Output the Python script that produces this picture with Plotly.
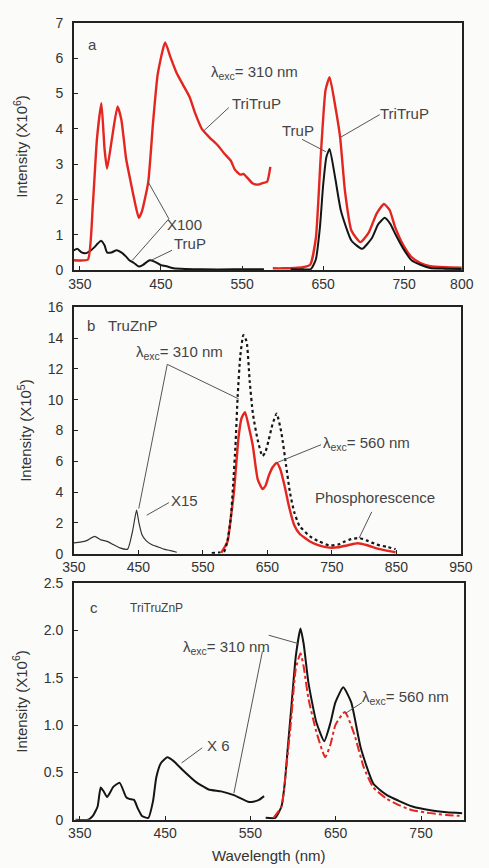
import plotly.graph_objects as go

# ---------------- data ----------------
# Panel a: TriTruP / TruP, excitation 310 nm
a_red_uv_wl = [342.5, 350, 360, 366, 371, 376.5, 380.4, 383.5, 389.4, 396.4, 401.1, 407, 410.9, 416.7,
               422.6, 426.6, 434.3, 440.2, 446.1, 455.1, 461.8, 469.6, 477, 485.3, 492, 500.8, 510,
               520.4, 528, 536, 541, 547.7, 551.6, 557, 563.3, 570, 575, 580.9, 584.9]
a_red_uv = [0.28, 0.27, 0.3, 1.85, 3.7, 4.72, 3.43, 2.87, 3.7, 4.63, 4.26, 3.15, 2.69, 2.04,
            1.48, 1.67, 2.49, 4.17, 5.56, 6.44, 6.02, 5.56, 5.25, 4.9, 4.45, 3.98, 3.75,
            3.52, 3.3, 3.1, 2.85, 2.7, 2.72, 2.6, 2.45, 2.42, 2.46, 2.5, 2.92]
a_blk_uv_wl = [342.5, 347, 352, 358, 363, 368, 372, 376, 380.4, 383.5, 389, 395.2, 401, 407, 411,
               416.7, 422.6, 428, 436, 442, 450, 458, 465.6, 480, 500, 540, 577]
a_blk_uv = [0.56, 0.6, 0.5, 0.48, 0.55, 0.65, 0.75, 0.83, 0.7, 0.5, 0.5, 0.56, 0.5, 0.38, 0.28,
            0.2, 0.1, 0.15, 0.28, 0.24, 0.14, 0.1, 0.05, 0.03, 0.02, 0.02, 0.02]
a_red_q_wl = [588, 600, 615, 625, 634, 641, 647, 653, 658, 665, 671, 677, 685, 696, 706, 716, 725,
              732, 739, 749, 759, 770, 782, 800, 821]
a_red_q = [0.05, 0.05, 0.06, 0.08, 0.15, 0.9, 3.2, 5.1, 5.46, 4.63, 3.75, 2.22, 1.11, 0.79, 1.05,
           1.6, 1.87, 1.7, 1.2, 0.7, 0.37, 0.2, 0.11, 0.08, 0.07]
a_blk_q_wl = [610, 625, 635, 641, 646, 650, 654, 658, 665, 672, 685, 698, 710, 718, 726, 733, 739,
              749, 759, 770, 782, 800, 821]
a_blk_q = [0.02, 0.02, 0.03, 0.3, 1.2, 2.4, 3.2, 3.43, 2.59, 1.67, 0.83, 0.6, 0.9, 1.3, 1.48, 1.3,
           1.02, 0.6, 0.28, 0.15, 0.06, 0.04, 0.03]

# Panel b: TruZnP
b_x15_wl = [350, 360, 370, 382, 392, 401.6, 411, 421.2, 433.5, 441, 447.3, 451, 455.7, 462, 470.4,
            480, 490, 500, 509.7]
b_x15 = [0.7, 0.75, 0.85, 1.13, 0.9, 0.8, 0.6, 0.38, 0.3, 1.45, 2.83, 2.0, 1.23, 0.85, 0.6, 0.45,
         0.3, 0.2, 0.1]
b_310_wl = [563.8, 575, 583.4, 588, 593.3, 597, 600.6, 604, 608, 612.9, 617.8, 622.7, 627.6, 635,
            642.4, 647, 652.2, 658, 664.5, 671.9, 679.2, 685, 691.6, 700, 716.1, 730, 745.6, 760,
            770.2, 780, 792.3, 805, 819.3, 835, 848.8]
b_310 = [0.05, 0.08, 0.17, 0.8, 2.3, 4.5, 7.0, 10.2, 12.8, 14.2, 13.8, 11.2, 9.1, 7.4, 6.34, 6.6,
         7.4, 8.4, 9.1, 7.83, 5.7, 4.0, 2.72, 1.8, 1.13, 0.8, 0.55, 0.6, 0.8, 0.95, 1.02, 0.85,
         0.6, 0.45, 0.3]
b_560_wl = [578.5, 588.4, 593, 598.2, 605.5, 610, 615.4, 621, 627.6, 635, 642.4, 647, 652.2, 658,
            664.5, 670, 676.8, 684, 691.6, 700, 716.1, 730, 745.6, 760, 775, 790, 805, 819.3, 835,
            848.8]
b_560 = [0.05, 0.8, 2.2, 4.0, 7.6, 8.8, 9.2, 8.3, 7.0, 4.85, 4.2, 4.4, 5.06, 5.6, 5.9, 5.5, 4.4,
         3.0, 1.87, 1.3, 0.8, 0.55, 0.4, 0.42, 0.55, 0.68, 0.55, 0.35, 0.2, 0.1]

# Panel c: TriTruZnP
c_x6_wl = [345, 359.7, 365.3, 370.9, 374.5, 378, 382, 389.5, 396.8, 404.3, 408, 413.6, 418, 422.9,
           430.3, 435.9, 439.7, 445.2, 452.6, 460, 471.2, 486, 501, 515.8, 530.6, 547.3, 553, 560,
           566]
c_x6 = [0.0, 0.0, 0.04, 0.14, 0.34, 0.3, 0.24, 0.35, 0.39, 0.24, 0.22, 0.21, 0.12, 0.04, 0.02, 0.2,
        0.45, 0.6, 0.66, 0.62, 0.52, 0.4, 0.32, 0.3, 0.26, 0.19, 0.19, 0.21, 0.25]
c_310_wl = [567.9, 579, 586.4, 590.2, 593.8, 597.5, 603.1, 608.7, 612.4, 618, 627.3, 636.5, 644,
            649.6, 658.8, 668.2, 679.3, 694.2, 710, 723.9, 740, 761, 780, 798.2]
c_310 = [0.02, 0.02, 0.14, 0.38, 0.76, 1.14, 1.72, 2.02, 1.86, 1.45, 1.03, 0.83, 1.03, 1.24, 1.4,
         1.24, 0.76, 0.38, 0.26, 0.2, 0.14, 0.1, 0.08, 0.07]
c_560_wl = [577.1, 586.4, 592, 597.5, 603.1, 608.7, 612.4, 618, 627.3, 637.7, 644, 649.6, 660.7,
            671.9, 683, 694.2, 710, 723.9, 740, 761, 780, 798.2]
c_560 = [0.02, 0.14, 0.55, 1.03, 1.59, 1.76, 1.62, 1.28, 0.93, 0.66, 0.8, 1.0, 1.14, 0.9, 0.55,
         0.34, 0.22, 0.155, 0.1, 0.07, 0.05, 0.04]

a_ticks = [350, 450, 550, 650, 750, 821]
a_ticktext = ["350", "450", "550", "650", "750", "800"]
b_ticks = [350, 450, 550, 650, 750, 850, 950]
c_ticks = [350, 450, 550, 650, 750]
a_yticks = [0, 1, 2, 3, 4, 5, 6, 7]
b_yticks = [0, 2, 4, 6, 8, 10, 12, 14, 16]
c_yticks = [0, 0.5, 1.0, 1.5, 2.0, 2.5]
c_yticktext = ["0", "0.5", "1.0", "1.5", "2.0", "2.5"]

# ---------------- figure ----------------
W, H = 489, 868
RED = "#e3261f"
BLK = "#151515"
TXT = "#444444"
FONT = "Liberation Sans, Arial, sans-serif"


def xd(l, r):
    return [l / W, r / W]


def yd(t, b):
    return [1 - b / H, 1 - t / H]


fig = go.Figure()


def line(x, y, ax, color, width, dash="solid"):
    fig.add_trace(go.Scatter(x=x, y=y, mode="lines", xaxis=ax[0], yaxis=ax[1],
                             line=dict(color=color, width=width, dash=dash, shape="spline",
                                       smoothing=0.5),
                             showlegend=False, hoverinfo="skip"))


line(a_blk_uv_wl, a_blk_uv, ("x", "y"), BLK, 2)
line(a_red_uv_wl, a_red_uv, ("x", "y"), RED, 2.4)
line(a_red_q_wl, a_red_q, ("x", "y"), RED, 2.4)
line(a_blk_q_wl, a_blk_q, ("x", "y"), BLK, 2)

line(b_x15_wl, b_x15, ("x2", "y2"), "#333333", 1.2)
line(b_560_wl, b_560, ("x2", "y2"), RED, 2.4)
line(b_310_wl, b_310, ("x2", "y2"), BLK, 2.2, "dot")

line(c_x6_wl, c_x6, ("x3", "y3"), BLK, 2)
line(c_310_wl, c_310, ("x3", "y3"), BLK, 2)
line(c_560_wl, c_560, ("x3", "y3"), RED, 2, "dashdot")

tickfont = dict(family=FONT, size=14, color="#333333")
titlefont = dict(family=FONT, size=15, color="#333333")


def xaxis(dom, rng, tv, tt, anchor, title=None):
    d = dict(domain=dom, range=rng, tickvals=tv, ticktext=tt, anchor=anchor,
             showline=True, mirror=True, linecolor="#222222", linewidth=1.5,
             ticks="inside", ticklen=4, tickcolor="#222222", tickfont=tickfont,
             showgrid=False, zeroline=False)
    if title:
        d["title"] = dict(text=title, font=titlefont, standoff=10)
    return d


def yaxis(dom, rng, tv, tt, anchor, title, standoff):
    return dict(domain=dom, range=rng, tickvals=tv, ticktext=tt, anchor=anchor,
                showline=True, mirror=True, linecolor="#222222", linewidth=1.5,
                ticks="inside", ticklen=4, tickcolor="#222222", tickfont=tickfont,
                ticklabelstandoff=6,
                showgrid=False, zeroline=False,
                title=dict(text=title, font=titlefont, standoff=standoff))


fig.update_layout(
    width=W, height=H, autosize=False,
    margin=dict(l=0, r=0, t=0, b=0),
    paper_bgcolor="#fbfbfa", plot_bgcolor="#fbfbfa",
    font=dict(family=FONT, color=TXT),
    xaxis=xaxis(xd(65, 473), [342.5, 821], a_ticks, a_ticktext, "y"),
    yaxis=yaxis(yd(15, 267), [0, 7], a_yticks, [str(v) for v in a_yticks], "x",
                "Intensity (X10<sup>6</sup>)", 24),
    xaxis2=xaxis(xd(65, 472), [350, 950], b_ticks, [str(v) for v in b_ticks], "y2"),
    yaxis2=yaxis(yd(305, 556), [0, 16], b_yticks, [str(v) for v in b_yticks], "x2",
                 "Intensity (X10<sup>5</sup>)", 12),
    xaxis3=xaxis(xd(65, 475), [343, 800], c_ticks, [str(v) for v in c_ticks], "y3",
                 "Wavelength (nm)"),
    yaxis3=yaxis(yd(586, 827), [0, 2.5], c_yticks, c_yticktext, "x3",
                 "Intensity (X10<sup>6</sup>)", 13),
)

ann = []
leaders = {"x": ([], []), "x2": ([], []), "x3": ([], [])}


def text(ax, x, y, s, size=15):
    ann.append(dict(xref=ax[0], yref=ax[1], x=x, y=y, text=s, showarrow=False,
                    font=dict(family=FONT, size=size, color=TXT)))


def lead(ax, tx, ty, hx, hy):
    xs, ys = leaders[ax[0]]
    xs += [tx, hx, None]
    ys += [ty, hy, None]


LEXC310 = "λ<sub>exc</sub>= 310 nm"
LEXC560 = "λ<sub>exc</sub>= 560 nm"

A = ("x", "y")
text(A, 366, 6.39, "a")
text(A, 565.3, 5.6, LEXC310)
text(A, 567.7, 4.71, "TriTruP")
lead(A, 533.7, 4.6, 502.8, 3.94)
text(A, 478.5, 1.30, "X100")
lead(A, 459.8, 1.45, 434.3, 2.49)
lead(A, 459.8, 1.45, 414.8, 0.28)
text(A, 486.2, 0.74, "TruP")
lead(A, 463.6, 0.56, 438.3, 0.28)
text(A, 619, 3.94, "TruP")
lead(A, 624, 3.7, 653.3, 3.35)
text(A, 750.9, 4.44, "TriTruP")
lead(A, 719.8, 4.4, 670.9, 3.75)

B = ("x2", "y2")
text(B, 377, 14.85, "b")
text(B, 441, 14.85, "TruZnP")
text(B, 513.4, 13.04, LEXC310)
lead(B, 494.9, 12.3, 605.5, 10.06)
lead(B, 494.9, 12.3, 450.7, 2.94)
text(B, 522, 3.47, "X15")
lead(B, 497.4, 3.32, 463, 2.5)
text(B, 803.4, 7.19, LEXC560)
lead(B, 733.3, 7.08, 664.5, 5.91)
text(B, 816.9, 3.68, "Phosphorescence")
lead(B, 811.9, 2.72, 792.3, 1.02)

C = ("x3", "y3")
text(C, 366.4, 2.24, "c")
text(C, 440.5, 2.24, "TriTruZnP", 12)
text(C, 522.3, 1.82, LEXC310)
lead(C, 571.5, 1.95, 606.9, 1.86)
lead(C, 564.1, 1.78, 530.6, 0.28)
text(C, 513, 0.78, "X 6")
lead(C, 493.5, 0.76, 469.3, 0.6)
text(C, 731.3, 1.29, LEXC560)
lead(C, 681.1, 1.24, 660.7, 1.12)

for xa, ya in (("x", "y"), ("x2", "y2"), ("x3", "y3")):
    xs, ys = leaders[xa]
    fig.add_trace(go.Scatter(x=xs, y=ys, mode="lines", xaxis=xa, yaxis=ya,
                             line=dict(color="#555555", width=1), connectgaps=False,
                             showlegend=False, hoverinfo="skip"))

fig.update_layout(annotations=ann)

fig.write_html("out.html")
